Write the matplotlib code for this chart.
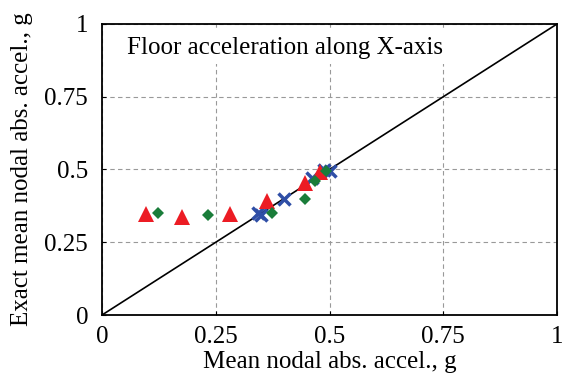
import numpy as np
import matplotlib
matplotlib.use("Agg")
from matplotlib import pyplot as plt

# mean nodal absolute acceleration (approx.) vs exact value, in g
red_x = [0.096, 0.175, 0.281, 0.362, 0.445, 0.478]
red_y = [0.348, 0.338, 0.348, 0.393, 0.455, 0.490]
green_x = [0.122, 0.234, 0.374, 0.445, 0.469, 0.493]
green_y = [0.352, 0.342, 0.352, 0.398, 0.462, 0.495]
blue_x = [0.342, 0.350, 0.401, 0.462, 0.488, 0.500]
blue_y = [0.352, 0.343, 0.397, 0.470, 0.497, 0.495]

ticks = [0, 0.25, 0.5, 0.75, 1]
tick_labels = ["0", "0.25", "0.5", "0.75", "1"]

plt.rcParams['font.family'] = ['Liberation Serif', 'DejaVu Serif']

fig = plt.figure(figsize=(5.65, 3.8), dpi=100)
ax = fig.add_axes([0.1805, 0.171, 0.8055, 0.766])

ax.plot([0, 1], [0, 1], color='black', lw=1.2, zorder=2)
ax.plot(blue_x, blue_y, 'x', color='#2F4EA6', ms=8, mew=2.5, zorder=3)
ax.plot(red_x, red_y, '^', color='#EC1C24', ms=11, mew=0, zorder=4)
ax.plot(green_x, green_y, 'D', color='#1A7D3A', ms=6.6, mew=0, zorder=5)

ax.set_xlim(0, 1)
ax.set_ylim(0, 1)
ax.set_xticks(ticks)
ax.set_xticklabels(tick_labels)
ax.set_yticks(ticks)
ax.set_yticklabels(tick_labels)
ax.tick_params(direction='in', length=3, labelsize=18)
ax.tick_params(axis='x', pad=8)
ax.tick_params(axis='y', pad=10)
ax.grid(True, color='#999999', ls=(0, (4, 3)), lw=0.8)
for s in ax.spines.values():
    s.set_linewidth(1.3)

ax.set_xlabel("Mean nodal abs. accel., g", fontsize=18, labelpad=2)
ax.set_ylabel("Exact mean nodal abs. accel., g", fontsize=18, labelpad=8)

ax.text(0.055, 0.918, "Floor acceleration along X-axis", transform=ax.transAxes,
        fontsize=18, va='center', ha='left', zorder=6,
        bbox=dict(facecolor='white', edgecolor='none', pad=4))

plt.savefig("out.png", dpi=100)
